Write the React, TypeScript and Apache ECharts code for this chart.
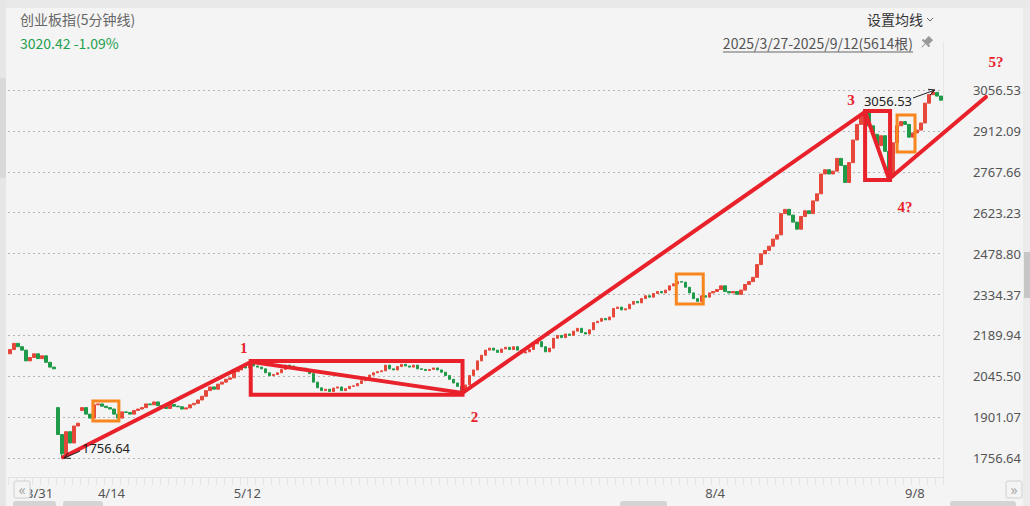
import React, { useEffect, useRef } from "react";
import * as echarts from "echarts";

// ---------- data ----------
const tradingDays = [
  "3/27", "3/28", "3/31",
  "4/1", "4/2", "4/3", "4/7", "4/8", "4/9", "4/10", "4/11", "4/14", "4/15", "4/16", "4/17", "4/18",
  "4/21", "4/22", "4/23", "4/24", "4/25", "4/28", "4/29", "4/30",
  "5/6", "5/7", "5/8", "5/9", "5/12", "5/13", "5/14", "5/15", "5/16", "5/19", "5/20", "5/21", "5/22",
  "5/23", "5/26", "5/27", "5/28", "5/29", "5/30",
  "6/3", "6/4", "6/5", "6/6", "6/9", "6/10", "6/11", "6/12", "6/13", "6/16", "6/17", "6/18", "6/19",
  "6/20", "6/23", "6/24", "6/25", "6/26", "6/27", "6/30",
  "7/1", "7/2", "7/3", "7/4", "7/7", "7/8", "7/9", "7/10", "7/11", "7/14", "7/15", "7/16", "7/17",
  "7/18", "7/21", "7/22", "7/23", "7/24", "7/25", "7/28", "7/29", "7/30", "7/31",
  "8/1", "8/4", "8/5", "8/6", "8/7", "8/8", "8/11", "8/12", "8/13", "8/14", "8/15", "8/18", "8/19",
  "8/20", "8/21", "8/22", "8/25", "8/26", "8/27", "8/28", "8/29",
  "9/1", "9/2", "9/3", "9/4", "9/5", "9/8", "9/9", "9/10", "9/11", "9/12",
];

// two bars per trading day (morning / afternoon), close values
const closes = [
  2140, 2162, 2150, 2138, 2100, 2112, 2125, 2108, 2118, 2095, 2078, 2072,
  1840, 1772, 1850, 1810, 1870, 1880, 1935, 1912, 1898, 1945, 1948, 1940,
  1935, 1930, 1912, 1898, 1920, 1918, 1912, 1925, 1930, 1935, 1948, 1945,
  1955, 1942, 1938, 1932, 1946, 1940, 1938, 1930, 1934, 1945, 1950, 1962,
  1975, 1995, 2008, 2000, 2018, 2025, 2035, 2040, 2062, 2068, 2080, 2075,
  2090, 2082, 2078, 2072, 2058, 2048, 2052, 2058, 2070, 2085, 2082, 2076,
  2070, 2074, 2068, 2055, 2025, 2005, 1995, 2000, 1992, 2004, 2008, 1995,
  2002, 2010, 2012, 2020, 2030, 2040, 2050, 2058, 2062, 2065, 2085, 2072,
  2068, 2080, 2088, 2082, 2078, 2085, 2072, 2070, 2066, 2070, 2075, 2068,
  2060, 2048, 2035, 2022, 2010, 1992, 2015, 2048, 2068, 2100, 2120, 2138,
  2145, 2138, 2130, 2142, 2148, 2140, 2150, 2138, 2128, 2132, 2140, 2160,
  2168, 2150, 2132, 2145, 2180, 2190, 2182, 2195, 2190, 2205, 2215, 2200,
  2195, 2210, 2235, 2240, 2250, 2245, 2255, 2285, 2290, 2280, 2284, 2300,
  2310, 2305, 2320, 2330, 2325, 2338, 2345, 2340, 2350, 2365, 2372, 2380,
  2378, 2360, 2340, 2320, 2310, 2330, 2325, 2340, 2345, 2352, 2365, 2345,
  2340, 2345, 2335, 2350, 2370, 2380, 2395, 2440, 2478, 2490, 2505, 2530,
  2545, 2620, 2635, 2615, 2590, 2565, 2610, 2630, 2620, 2665, 2690, 2760,
  2775, 2760, 2770, 2815, 2790, 2730, 2800, 2880, 2935, 2965, 2975, 2930,
  2900, 2860, 2895, 2840, 2750, 2870, 2930, 2945, 2935, 2890, 2905, 2915,
  2940, 3010, 3040, 3048, 3035, 3020.42,
];

// opens where the price gapped away from the previous close: [barIndex, open]
const gapOpens: [number, number][] = [[0, 2125], [12, 1935], [18, 1925]];
// extreme wicks: [barIndex, value]
const wickLows: [number, number][] = [[13, 1756.64], [220, 2742]];
const wickHighs: [number, number][] = [[214, 2982], [231, 3056.53]];

const yTicks = [1756.64, 1901.07, 2045.5, 2189.94, 2334.37, 2478.8, 2623.23, 2767.66, 2912.09, 3056.53];
const xLabelDates = ["3/31", "4/14", "5/12", "8/4", "9/8"];

// annotations in data space: [barIndex, value]
const redLines: [number, number][][] = [
  [[13.25, 1760], [60.5, 2098]],
  [[60.5, 2096], [113.25, 1987]],
  [[113.25, 1987], [214, 2979]],
  [[214, 2979], [220, 2742]],
  [[220, 2742], [244.25, 3032]],
];
const redRects: [number, number][][] = [
  [[60.25, 2100], [113.25, 1980]],
  [[214, 2982], [220.25, 2739]],
];
const orangeRects: [number, number][][] = [
  [[20.75, 1958], [27.25, 1888]],
  [[166.75, 2407], [173.5, 2301]],
  [[222, 2968], [226.5, 2838]],
];
const waveLabels: [string, number, number][] = [
  ["1", 58.5, 2146],
  ["2", 116.25, 1902],
  ["3", 210.5, 3021],
  ["4?", 224, 2643],
  ["5?", 246.75, 3155],
];
const minMark: [number, number] = [13, 1756.64];
const maxMark: [number, number] = [231, 3056.53];

// ---------- chart ----------
const RED = "#e8212b";
const ORANGE = "#f7861f";
const UP = "#e5483b";
const DOWN = "#1f9a48";
const FONT = '"Noto Sans", "Noto Sans CJK SC", sans-serif';
const CJK = '"Noto Sans CJK SC", "Noto Sans", sans-serif';

export default function App() {
  const ref = useRef<HTMLDivElement>(null);

  useEffect(() => {
    if (!ref.current) return;
    const chart = echarts.init(ref.current, undefined, { renderer: "svg" });

    const categories = tradingDays.flatMap((d) => [d + "|0", d + "|1"]);
    const gapMap = new Map(gapOpens);
    const lowMap = new Map(wickLows);
    const highMap = new Map(wickHighs);
    const candles = closes.map((c, i) => {
      const o = gapMap.has(i) ? (gapMap.get(i) as number) : i > 0 ? closes[i - 1] : c;
      const lo = lowMap.has(i) ? (lowMap.get(i) as number) : Math.min(o, c);
      const hi = highMap.has(i) ? (highMap.get(i) as number) : Math.max(o, c);
      return [o, c, lo, hi];
    });

    chart.setOption({
      animation: false,
      backgroundColor: "#f4f4f4",
      grid: { left: 8, right: 87, top: 42, bottom: 29, containLabel: false },
      xAxis: {
        type: "category",
        data: categories,
        boundaryGap: true,
        axisLine: { show: true, lineStyle: { color: "#e2e2e2" } },
        axisTick: {
          show: true,
          interval: (i: number) => i % 2 === 0,
          length: 8,
          lineStyle: { color: "#e4e4e4" },
        },
        axisLabel: {
          interval: (i: number, v: string) => {
            const [d, h] = v.split("|");
            return h === "0" && xLabelDates.includes(d);
          },
          formatter: (v: string) => v.split("|")[0],
          align: "left",
          margin: 9,
          color: "#555",
          fontSize: 13,
          fontFamily: FONT,
        },
        splitLine: { show: false },
      },
      yAxis: {
        type: "value",
        position: "right",
        min: 1690,
        max: 3226,
        scale: true,
        axisLine: { show: true, lineStyle: { color: "#e6e6e6" } },
        axisTick: { show: false },
        splitLine: { show: false },
        axisLabel: {
          customValues: yTicks,
          formatter: (v: number) => v.toFixed(2),
          align: "right",
          margin: 78,
          color: "#555",
          fontSize: 13,
          fontFamily: FONT,
        },
      },
      series: [
        {
          type: "candlestick",
          data: candles,
          barWidth: "75%",
          itemStyle: {
            color: UP,
            color0: DOWN,
            borderColor: UP,
            borderColor0: DOWN,
            borderWidth: 1,
          },
          markLine: {
            silent: true,
            symbol: ["none", "none"],
            label: { show: false },
            lineStyle: { type: [2, 3], color: "#b4b4b4", width: 1 },
            data: yTicks.map((v) => ({ yAxis: v })),
            z: 1,
          },
        },
      ],
    });

    const px = (idx: number, v: number): [number, number] => {
      const a = chart.convertToPixel({ gridIndex: 0 }, [0, v]) as number[];
      const b = chart.convertToPixel({ gridIndex: 0 }, [1, v]) as number[];
      return [a[0] + idx * (b[0] - a[0]), a[1]];
    };

    const els: any[] = [];
    // UI frame pieces
    els.push({ type: "rect", shape: { x: 0, y: 0, width: 1030, height: 8 }, style: { fill: "#e9e9e9" }, z: 1 });
    els.push({ type: "rect", shape: { x: 0, y: 0, width: 6, height: 506 }, style: { fill: "#e6e6e6" }, z: 1 });
    els.push({ type: "rect", shape: { x: 0, y: 78, width: 6, height: 100 }, style: { fill: "#d9d9d9" }, z: 1 });
    els.push({ type: "rect", shape: { x: 1023, y: 8, width: 7, height: 498 }, style: { fill: "#ebebeb" }, z: 1 });
    els.push({ type: "rect", shape: { x: 1024, y: 252, width: 6, height: 46 }, style: { fill: "#c6c6c6" }, z: 1 });
    [[13, 43], [63, 40], [620, 47], [950, 66]].forEach(([x, w]) =>
      els.push({ type: "rect", shape: { x, y: 501, width: w, height: 8, r: 3 }, style: { fill: "#d4d4d4" }, z: 1 })
    );
    // scroll buttons
    els.push({ type: "rect", shape: { x: 14, y: 481, width: 16, height: 17, r: 2 }, style: { fill: "#f4f4f4", stroke: "#cfcfcf" }, z: 50 });
    els.push({ type: "text", x: 22, y: 489, style: { text: "«", fill: "#aaa", fontSize: 14, fontFamily: FONT, align: "center", verticalAlign: "middle" }, z: 51 });
    els.push({ type: "rect", shape: { x: 1006, y: 481, width: 16, height: 17, r: 2 }, style: { fill: "#f4f4f4", stroke: "#cfcfcf" }, z: 50 });
    els.push({ type: "text", x: 1014, y: 489, style: { text: "»", fill: "#aaa", fontSize: 14, fontFamily: FONT, align: "center", verticalAlign: "middle" }, z: 51 });

    // header texts
    els.push({ type: "text", x: 20, y: 19, style: { text: "创业板指(5分钟线)", fill: "#666", fontSize: 14, fontFamily: CJK, verticalAlign: "middle" }, z: 20 });
    els.push({ type: "text", x: 20, y: 43, style: { text: "3020.42 -1.09%", fill: "#23a04e", fontSize: 14, fontFamily: CJK, verticalAlign: "middle" }, z: 20 });
    els.push({ type: "text", x: 923, y: 19, style: { text: "设置均线", fill: "#333", fontSize: 14, fontFamily: CJK, align: "right", verticalAlign: "middle" }, z: 20 });
    els.push({ type: "polyline", shape: { points: [[927, 18], [930, 21], [933, 18]] }, style: { stroke: "#666", lineWidth: 1, fill: null }, z: 20 });
    els.push({ type: "text", x: 913, y: 43, style: { text: "2025/3/27-2025/9/12(5614根)", fill: "#555", fontSize: 14, fontFamily: CJK, align: "right", verticalAlign: "middle" }, z: 20 });
    els.push({ type: "line", shape: { x1: 723, y1: 52, x2: 913, y2: 52 }, style: { stroke: "#666", lineWidth: 1 }, z: 20 });
    // pin icon
    els.push({
      type: "group", x: 926, y: 43, rotation: -Math.PI / 4, z: 20,
      children: [
        { type: "rect", shape: { x: -3, y: -7, width: 6, height: 7 }, style: { fill: "#999" } },
        { type: "rect", shape: { x: -5, y: -1, width: 10, height: 2 }, style: { fill: "#999" } },
        { type: "line", shape: { x1: 0, y1: 1, x2: 0, y2: 6 }, style: { stroke: "#999", lineWidth: 1 } },
      ],
    });

    // red wave lines
    redLines.forEach(([a, b]) => {
      const A = px(a[0], a[1]);
      const B = px(b[0], b[1]);
      els.push({ type: "line", shape: { x1: A[0], y1: A[1], x2: B[0], y2: B[1] }, style: { stroke: RED, lineWidth: 4, lineCap: "round" }, z: 30 });
    });
    const rectEl = (r: [number, number][], color: string, w: number) => {
      const A = px(r[0][0], r[0][1]);
      const B = px(r[1][0], r[1][1]);
      return {
        type: "rect",
        shape: { x: Math.min(A[0], B[0]), y: Math.min(A[1], B[1]), width: Math.abs(B[0] - A[0]), height: Math.abs(B[1] - A[1]) },
        style: { fill: null, stroke: color, lineWidth: w },
        z: 30,
      };
    };
    redRects.forEach((r) => els.push(rectEl(r, RED, 4)));
    orangeRects.forEach((r) => els.push(rectEl(r, ORANGE, 3)));
    waveLabels.forEach(([t, i, v]) => {
      const P = px(i, v);
      els.push({ type: "text", x: P[0], y: P[1], style: { text: t, fill: RED, fontSize: 15, fontWeight: "bold", fontFamily: '"Liberation Serif", "DejaVu Serif", serif', align: "center", verticalAlign: "middle" }, z: 31 });
    });

    const arrow = (x1: number, y1: number, x2: number, y2: number) => {
      const ang = Math.atan2(y2 - y1, x2 - x1);
      const L = 7;
      const h1 = [x2 - L * Math.cos(ang - 0.45), y2 - L * Math.sin(ang - 0.45)];
      const h2 = [x2 - L * Math.cos(ang + 0.45), y2 - L * Math.sin(ang + 0.45)];
      els.push({ type: "line", shape: { x1, y1, x2, y2 }, style: { stroke: "#222", lineWidth: 1 }, z: 32 });
      els.push({ type: "polyline", shape: { points: [h1, [x2, y2], h2] }, style: { stroke: "#222", lineWidth: 1, fill: null }, z: 32 });
    };
    const mn = px(minMark[0], minMark[1]);
    arrow(mn[0] + 18, mn[1] - 7, mn[0] + 2, mn[1]);
    els.push({ type: "text", x: mn[0] + 20, y: mn[1] - 10, style: { text: minMark[1].toFixed(2), fill: "#222", fontSize: 13, fontFamily: FONT, verticalAlign: "middle" }, z: 32 });
    const mx = px(maxMark[0], maxMark[1]);
    arrow(mx[0] - 20, mx[1] + 8, mx[0] + 2, mx[1]);
    els.push({ type: "text", x: mx[0] - 21, y: mx[1] + 11, style: { text: maxMark[1].toFixed(2), fill: "#222", fontSize: 13, fontFamily: FONT, align: "right", verticalAlign: "middle" }, z: 32 });

    chart.setOption({ graphic: els });

    return () => chart.dispose();
  }, []);

  return <div ref={ref} style={{ position: "fixed", left: 0, top: 0, width: 1030, height: 506 }} />;
}
